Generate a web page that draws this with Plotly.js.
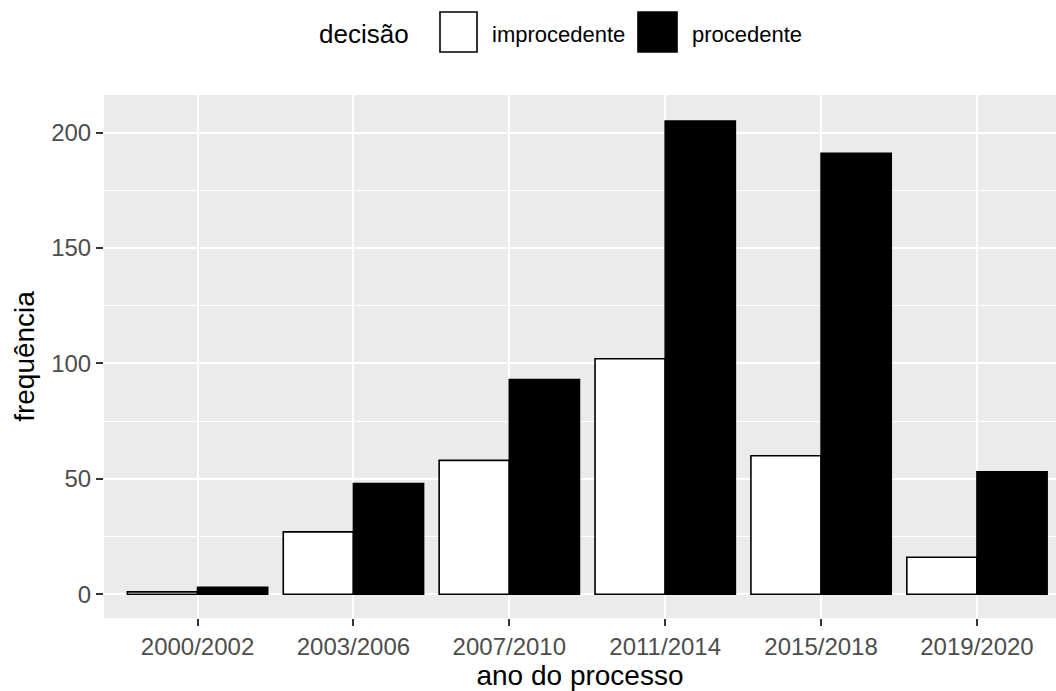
<!DOCTYPE html>
<html>
<head>
<meta charset="utf-8">
<script src="https://cdn.plot.ly/plotly-3.0.1.min.js"></script>
<style>html,body{margin:0;padding:0;background:#fff;}#chart{width:1056px;height:691px;}</style>
</head>
<body>
<div id="chart"></div>
<script>
const categories = ['2000/2002', '2003/2006', '2007/2010', '2011/2014', '2015/2018', '2019/2020'];
const improcedente = [1, 27, 58, 102, 60, 16];
const procedente = [3, 48, 93, 205, 191, 53];
const seriesNames = ['improcedente', 'procedente'];
const legendTitle = 'decisão';
const yTicks = [0, 50, 100, 150, 200];

const W = 1056, H = 691;
const L = 104, R = 0, T = 95, B = 73;
const pw = W - L - R, ph = H - T - B;
const px = x => (x - L) / pw;
const py = y => (H - B - y) / ph;

const font = 'Liberation Sans, Arial, sans-serif';

const traces = [
  {type: 'bar', name: seriesNames[0], x: categories, y: improcedente,
   marker: {color: '#ffffff', line: {color: '#000000', width: 1.6}}, hoverinfo: 'x+y'},
  {type: 'bar', name: seriesNames[1], x: categories, y: procedente,
   marker: {color: '#000000', line: {color: '#000000', width: 1.6}}, hoverinfo: 'x+y'}
];

const layout = {
  width: W, height: H,
  margin: {l: L, r: R, t: T, b: B, pad: 0},
  paper_bgcolor: '#ffffff',
  plot_bgcolor: '#EBEBEB',
  showlegend: false,
  barmode: 'group',
  bargap: 0.1,
  bargroupgap: 0,
  font: {family: font, color: '#000'},
  xaxis: {
    type: 'category',
    range: [-0.6, 5.507],
    showgrid: true, gridcolor: '#ffffff', gridwidth: 2,
    ticks: 'outside', ticklen: 7, tickwidth: 2, tickcolor: '#333333',
    tickfont: {family: font, size: 24, color: '#4D4D4D'},
    showline: false, zeroline: false,
    title: {text: 'ano do processo', font: {family: font, size: 28, color: '#000'}, standoff: 6}
  },
  yaxis: {
    range: [-10.3, 216.3],
    tickmode: 'array', tickvals: yTicks, ticktext: yTicks.map(String),
    showgrid: true, gridcolor: '#ffffff', gridwidth: 2,
    minor: {dtick: 25, tick0: 25, showgrid: true, gridcolor: '#ffffff', gridwidth: 1, ticks: ''},
    ticks: 'outside', ticklen: 7, tickwidth: 2, tickcolor: '#333333',
    tickfont: {family: font, size: 24, color: '#4D4D4D'},
    showline: false, zeroline: false,
    title: {text: 'frequência', font: {family: font, size: 28, color: '#000'}, standoff: 8}
  },
  shapes: [
    {type: 'rect', xref: 'paper', yref: 'paper', x0: px(440), x1: px(477), y0: py(52), y1: py(12),
     fillcolor: '#ffffff', line: {color: '#000000', width: 1.6}},
    {type: 'rect', xref: 'paper', yref: 'paper', x0: px(638), x1: px(677), y0: py(52), y1: py(12),
     fillcolor: '#000000', line: {color: '#000000', width: 1.6}}
  ],
  annotations: [
    {xref: 'paper', yref: 'paper', x: px(317), y: py(34), xanchor: 'left', yanchor: 'middle',
     text: legendTitle, showarrow: false, font: {family: font, size: 26, color: '#000'}},
    {xref: 'paper', yref: 'paper', x: px(490), y: py(35), xanchor: 'left', yanchor: 'middle',
     text: seriesNames[0], showarrow: false, font: {family: font, size: 22, color: '#000'}},
    {xref: 'paper', yref: 'paper', x: px(690), y: py(35), xanchor: 'left', yanchor: 'middle',
     text: seriesNames[1], showarrow: false, font: {family: font, size: 22, color: '#000'}}
  ]
};

Plotly.newPlot('chart', traces, layout, {displayModeBar: false, staticPlot: true});
</script>
</body>
</html>
